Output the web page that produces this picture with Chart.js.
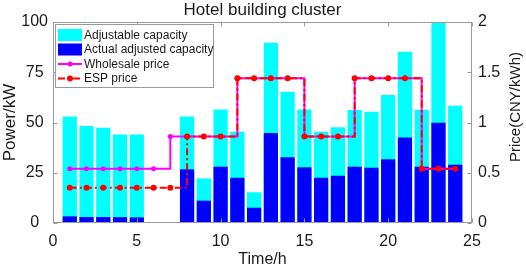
<!DOCTYPE html>
<html>
<head>
<meta charset="utf-8">
<script src="https://cdn.jsdelivr.net/npm/chart.js@4.4.0/dist/chart.umd.min.js"></script>
<style>
  html, body { margin: 0; padding: 0; background: #fff; }
</style>
</head>
<body>
<canvas id="hotelChart" width="526" height="268"></canvas>
<script>
// data
const hours = [1, 2, 3, 4, 5, 6, 7, 8, 9, 10, 11, 12, 13, 14, 15, 16, 17, 18, 19, 20, 21, 22, 23, 24];
const adjustable = [53, 48.3, 47.4, 44, 44, null, null, 53, 22.2, 56.5, 45.4, 15.3, 89.7, 65.3, 56.5, 45.4, 47.6, 56.2, 55.4, 63.7, 85.2, 56.3, 100, 58.3];
const actual = [3.3, 3, 3, 2.9, 2.8, null, null, 26.7, 11.1, 28, 22.5, 7.6, 44.8, 32.7, 27.7, 22.5, 23.5, 28, 27.5, 31.7, 42.5, 28, 49.9, 29];
const wholesale = [0.54, 0.54, 0.54, 0.54, 0.54, 0.54, 0.86, 0.86, 0.86, 0.86, 1.44, 1.44, 1.44, 1.44, 0.86, 0.86, 0.86, 1.44, 1.44, 1.44, 1.44, 0.54, 0.54, 0.54];
const esp = [0.35, 0.35, 0.35, 0.35, 0.35, 0.35, 0.35, 0.86, 0.86, 0.86, 1.44, 1.44, 1.44, 1.44, 0.86, 0.86, 0.86, 1.44, 1.44, 1.44, 1.44, 0.54, 0.54, 0.54];

const timeTicks = [0, 5, 10, 15, 20, 25];
const powerTicks = [0, 25, 50, 75, 100];
const priceTicks = [0, 0.5, 1, 1.5, 2];

const FONT = "'Liberation Sans', Arial, sans-serif";
const GRAY = '#9a9a9a';
const TXT = '#1a1a1a';

const toPoints = vals => hours.map((h, i) => ({ x: h, y: vals[i] }));
const setTicks = list => scale => { scale.ticks = list.map(v => ({ value: v })); };

// box, inward tick marks, legend, right label and title (MATLAB look)
const figureDecor = {
  id: 'figureDecor',
  afterDatasetsDraw(chart) {
    const ctx = chart.ctx;
    const a = chart.chartArea;
    const sx = chart.scales.x, sy = chart.scales.y, sy1 = chart.scales.y1;
    const L = Math.round(a.left) + 0.5, R = Math.round(a.right) - 0.5;
    const T = Math.round(a.top) + 0.5, B = Math.round(a.bottom) - 0.5;
    ctx.save();
    ctx.strokeStyle = GRAY;
    ctx.lineWidth = 1;
    ctx.strokeRect(L, T, R - L, B - T);
    ctx.beginPath();
    timeTicks.forEach(v => {
      const px = Math.round(sx.getPixelForValue(v)) + 0.5;
      ctx.moveTo(px, B); ctx.lineTo(px, B - 4);
      ctx.moveTo(px, T); ctx.lineTo(px, T + 4);
    });
    powerTicks.forEach(v => {
      const py = Math.round(sy.getPixelForValue(v)) + 0.5;
      ctx.moveTo(L, py); ctx.lineTo(L + 4, py);
    });
    priceTicks.forEach(v => {
      const py = Math.round(sy1.getPixelForValue(v)) + 0.5;
      ctx.moveTo(R, py); ctx.lineTo(R - 4, py);
    });
    ctx.stroke();
    ctx.restore();
  },
  afterDraw(chart) {
    const ctx = chart.ctx;
    const ds = chart.data.datasets;
    ctx.save();
    // title
    ctx.fillStyle = TXT;
    ctx.font = '17px ' + FONT;
    ctx.textAlign = 'center';
    ctx.textBaseline = 'middle';
    ctx.fillText('Hotel building cluster', 262.5, 10);
    // right axis label, reading bottom to top
    ctx.save();
    ctx.translate(516, 107);
    ctx.rotate(-Math.PI / 2);
    ctx.font = '15px ' + FONT;
    ctx.fillText('Price(CNY/kWh)', 0, 0);
    ctx.restore();
    // legend box
    const bx = 55.5, by = 24.5, bw = 158, bh = 63;
    ctx.fillStyle = '#fff';
    ctx.fillRect(bx, by, bw, bh);
    ctx.strokeStyle = GRAY;
    ctx.lineWidth = 1;
    ctx.strokeRect(bx, by, bw, bh);
    const rows = [35, 49.5, 64, 78.5];
    const sx0 = 58, sx1 = 82;
    ctx.font = '12px ' + FONT;
    ctx.textAlign = 'left';
    ds.forEach((d, i) => {
      const y = rows[i];
      if (d.type === 'bar') {
        ctx.fillStyle = d.backgroundColor;
        ctx.fillRect(sx0, y - 6, sx1 - sx0, 12);
      } else {
        ctx.strokeStyle = d.borderColor;
        ctx.lineWidth = d.borderWidth;
        ctx.setLineDash(d.borderDash || []);
        ctx.beginPath();
        ctx.moveTo(sx0, y); ctx.lineTo(sx1, y);
        ctx.stroke();
        ctx.setLineDash([]);
        ctx.fillStyle = d.pointBackgroundColor;
        ctx.beginPath();
        ctx.arc((sx0 + sx1) / 2, y, d.pointRadius, 0, Math.PI * 2);
        ctx.fill();
      }
      ctx.fillStyle = TXT;
      ctx.fillText(d.label, 84, y + 0.5);
    });
    ctx.restore();
  }
};

const ctx = document.getElementById('hotelChart').getContext('2d');
const hotelChart = new Chart(ctx, {
  type: 'bar',
  data: {
    datasets: [
      {
        type: 'bar',
        label: 'Adjustable capacity',
        data: toPoints(adjustable),
        backgroundColor: '#00ffff',
        borderWidth: 0,
        grouped: false,
        barPercentage: 0.85,
        categoryPercentage: 1,
        yAxisID: 'y',
        order: 3
      },
      {
        type: 'bar',
        label: 'Actual adjusted capacity',
        data: toPoints(actual),
        backgroundColor: '#0000ff',
        borderWidth: 0,
        grouped: false,
        barPercentage: 0.85,
        categoryPercentage: 1,
        yAxisID: 'y',
        order: 2
      },
      {
        type: 'line',
        label: 'Wholesale price',
        data: toPoints(wholesale),
        borderColor: '#ff00ff',
        borderWidth: 2,
        stepped: true,
        pointRadius: 2.5,
        pointBorderWidth: 0,
        pointBackgroundColor: '#ff00ff',
        yAxisID: 'y1',
        order: 1
      },
      {
        type: 'line',
        label: 'ESP price',
        data: toPoints(esp),
        borderColor: '#ff0000',
        borderWidth: 2,
        borderDash: [7, 3, 2, 3],
        stepped: true,
        pointRadius: 3,
        pointBorderWidth: 0,
        pointBackgroundColor: '#ff0000',
        yAxisID: 'y1',
        order: 0
      }
    ]
  },
  options: {
    responsive: false,
    animation: false,
    events: [],
    layout: { padding: { top: 22, left: 0, right: 0, bottom: 0 } },
    plugins: {
      legend: { display: false },
      title: { display: false },
      tooltip: { enabled: false }
    },
    scales: {
      x: {
        type: 'linear',
        offset: false,
        min: 0,
        max: 25,
        grid: { display: false, drawTicks: false },
        border: { display: false },
        afterBuildTicks: setTicks(timeTicks),
        afterFit: s => { s.height = 45; },
        ticks: {
          padding: 9,
          color: TXT,
          font: { family: FONT, size: 16 },
          maxRotation: 0,
          autoSkip: false,
          callback: v => String(v)
        },
        title: {
          display: true,
          text: 'Time/h',
          color: TXT,
          font: { family: FONT, size: 16, lineHeight: 1 },
          padding: { top: 0, bottom: 0 }
        }
      },
      y: {
        position: 'left',
        min: 0,
        max: 100,
        grid: { display: false, drawTicks: false },
        border: { display: false },
        afterBuildTicks: setTicks(powerTicks),
        afterFit: s => { s.width = 53; },
        ticks: {
          padding: 5,
          crossAlign: 'center',
          color: TXT,
          font: { family: FONT, size: 16 },
          callback: v => String(v)
        },
        title: {
          display: true,
          text: 'Power/kW',
          color: TXT,
          font: { family: FONT, size: 17 },
          padding: 0
        }
      },
      y1: {
        position: 'right',
        min: 0,
        max: 2,
        grid: { display: false, drawTicks: false },
        border: { display: false },
        afterBuildTicks: setTicks(priceTicks),
        afterFit: s => { s.width = 54; },
        ticks: {
          padding: 6,
          color: TXT,
          font: { family: FONT, size: 16 },
          callback: v => String(v)
        }
      }
    }
  },
  plugins: [figureDecor]
});
</script>
</body>
</html>
